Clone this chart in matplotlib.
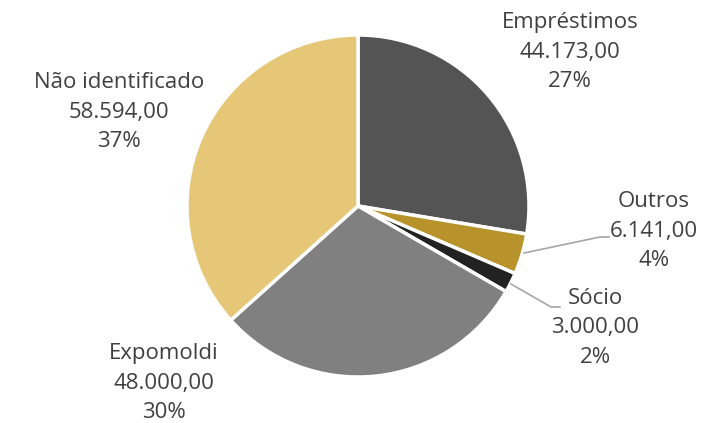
import numpy as np
import matplotlib.pyplot as plt

labels = ['Empréstimos', 'Outros', 'Sócio', 'Expomoldi', 'Não identificado']
values = [44173.00, 6141.00, 3000.00, 48000.00, 58594.00]
value_txt = ['44.173,00', '6.141,00', '3.000,00', '48.000,00', '58.594,00']
pct_txt = ['27%', '4%', '2%', '30%', '37%']
colors = ['#545454', '#b8922a', '#222222', '#808080', '#e6c677']

H = 423
fig = plt.figure(figsize=(7.02, 4.23), dpi=100)
ax = fig.add_axes([0, 0, 1, 1])

ax.pie(values, colors=colors, startangle=90, counterclock=False,
       center=(358, H - 206), radius=171, frame=True,
       wedgeprops=dict(edgecolor='white', linewidth=2.5))
ax.set_xlim(0, 702)
ax.set_ylim(0, H)
ax.set_aspect('equal')
ax.axis('off')

# label positions in pixel coordinates (x center, y of middle line)
label_pos = [(570, 52), (654, 231), (595, 328), (164, 383), (119, 112)]
for lab, v, p, (x, y) in zip(labels, value_txt, pct_txt, label_pos):
    ax.text(x, H - y, f'{lab}\n{v}\n{p}', ha='center', va='center',
            fontsize=16, color='#404040', family='Open Sans', linespacing=1.55)

# leader lines
ax.plot([524, 600, 609], [H - 253, H - 237, H - 237], color='#a6a6a6', lw=1.2)
ax.plot([511, 551, 560], [H - 284, H - 307, H - 307], color='#a6a6a6', lw=1.2)

plt.savefig('out.png', dpi=100)
